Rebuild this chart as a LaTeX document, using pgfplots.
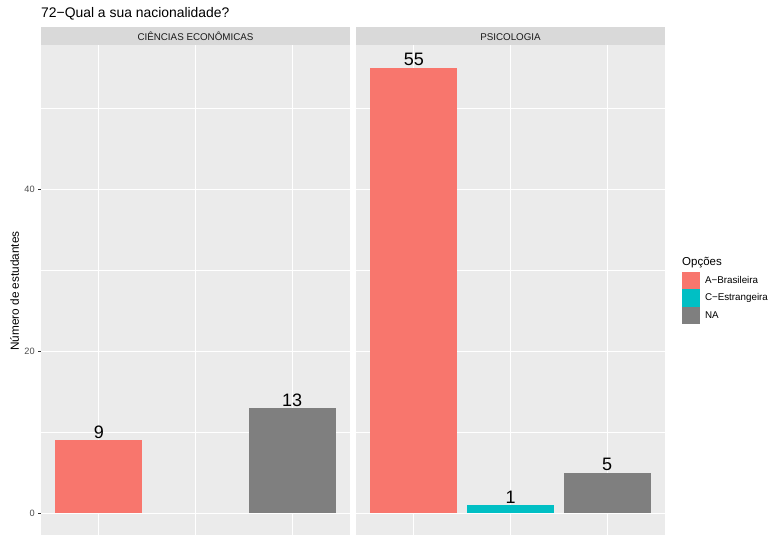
\documentclass[border=0pt]{standalone}
\usepackage{pgfplots}
\pgfplotsset{compat=1.18}
\usepackage{fontspec}
\setmainfont{Liberation Sans}
\definecolor{cA}{HTML}{F8766D}
\definecolor{cC}{HTML}{00BFC4}
\definecolor{cNA}{HTML}{7F7F7F}
\definecolor{stripc}{HTML}{D9D9D9}
\definecolor{panelc}{HTML}{EBEBEB}
\definecolor{g30}{HTML}{4D4D4D}
\definecolor{g20}{HTML}{333333}
\definecolor{g10}{HTML}{1A1A1A}
\pgfplotsset{panel/.style={
  scale only axis, width=309pt, height=490pt,
  anchor=south west,
  xmin=0.4, xmax=3.6, ymin=-2.75, ymax=57.75,
  axis background/.style={fill=panelc},
  axis line style={draw=none},
  xtick={1,2,3}, xticklabels={},
  ytick={0,20,40}, minor ytick={10,30,50},
  ytick pos=left,
  grid=both,
  major grid style={white, line width=1.07pt},
  minor grid style={white, line width=0.53pt},
  xtick style={draw=none},
  tick align=outside, major tick length=2.75pt, minor tick length=0pt,
  ytick style={g20, line width=1.07pt},
  yticklabel style={font=\fontsize{9.2}{10}\selectfont, text=g30},
  /pgf/number format/assume math mode=true,
  ybar, bar width=0.9, bar shift=0pt,
  nodes near coords,
  every node near coord/.append style={font=\fontsize{18}{20}\selectfont, anchor=south, inner sep=0pt, yshift=1.5pt, text=black},
}}
\begin{document}
\begin{tikzpicture}[x=1pt,y=1pt]
\useasboundingbox (0,0) rectangle (771,535);
% title
\node[anchor=base west, inner sep=0pt, font=\fontsize{13.9}{15}\selectfont] at (41,517) {72−Qual a sua nacionalidade?};
% y label
\node[anchor=base, rotate=90, inner sep=0pt, font=\fontsize{11.8}{13}\selectfont] at (19,244) {Número de estudantes};
% strips
\fill[stripc] (41,489.5) rectangle (350,508);
\fill[stripc] (356,489.5) rectangle (665,508);
\node[anchor=base, inner sep=0pt, text=g10, font=\fontsize{9.8}{11}\selectfont] at (195.5,494.5) {CIÊNCIAS ECONÔMICAS};
\node[anchor=base, inner sep=0pt, text=g10, font=\fontsize{9.8}{11}\selectfont] at (510.5,494.5) {PSICOLOGIA};
% panel 1
\begin{axis}[panel, at={(41pt,-0.5pt)}]
\addplot[fill=cA, draw=none] coordinates {(1,9)};
\addplot[fill=cNA, draw=none] coordinates {(3,13)};
\end{axis}
% panel 2
\begin{axis}[panel, at={(356pt,-0.5pt)}, yticklabels={}, ytick style={draw=none},
  legend style={draw=none, fill=none, at={(1,0.5378)}, anchor=north west, xshift=17pt,
    row sep=0pt, inner sep=0pt, font=\fontsize{9.8}{11}\selectfont,
    nodes={inner sep=0pt, text=black},
    /tikz/every odd column/.append style={column sep=5.5pt}},
  legend cell align=left,
  legend image code/.code={\fill[#1] (0pt,-8.65pt) rectangle (17.3pt,8.65pt);}]
\addplot[fill=cA, draw=none] coordinates {(1,55)};
\addlegendentry{A−Brasileira}
\addplot[fill=cC, draw=none] coordinates {(2,1)};
\addlegendentry{C−Estrangeira}
\addplot[fill=cNA, draw=none] coordinates {(3,5)};
\addlegendentry{NA}
\end{axis}
\node[anchor=base west, inner sep=0pt, font=\fontsize{11.5}{13}\selectfont] at (682,269) {Opções};
\end{tikzpicture}
\end{document}
